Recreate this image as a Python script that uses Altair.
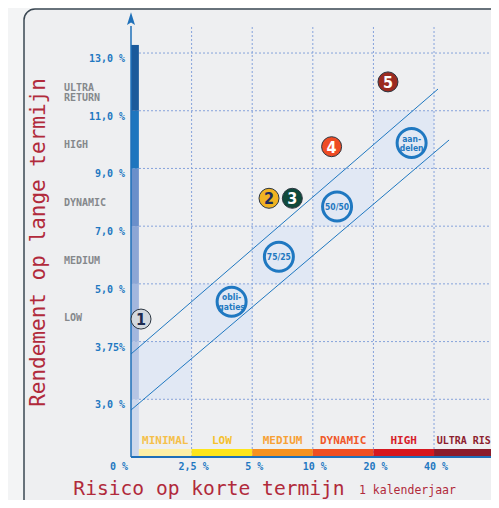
import altair as alt
import pandas as pd

# ---------------- data ----------------
risk_tick_pos = [0, 1, 2, 3, 4, 5]
risk_tick_labels = ["0 %", "2,5 %", "5 %", "10 %", "20 %", "40 %"]
return_tick_pos = [1, 2, 3, 4, 5, 6, 7]
return_tick_labels = ["3,0 %", "3,75%", "5,0 %", "7,0 %", "9,0 %", "11,0 %", "13,0 %"]

return_class_names = ["LOW", "MEDIUM", "DYNAMIC", "HIGH", "ULTRA\nRETURN"]
return_class_low = [2, 3, 4, 5, 6]

return_bar_low = [0, 1, 2, 3, 4, 5, 6]
return_bar_high = [1, 2, 3, 4, 5, 6, 7.14]

risk_class_names = ["MINIMAL", "LOW", "MEDIUM", "DYNAMIC", "HIGH", "ULTRA RIS"]
risk_class_start = [0.13, 1, 2, 3, 4, 5]
risk_class_end = [1, 2, 3, 4, 5, 6]
risk_label_pos = [0.565, 1.5, 2.5, 3.5, 4.5, 5.49]

band_cell_x = [0, 1, 2, 3, 4]
band_cell_y = [1, 2, 3, 4, 5]

band_line_names = ["upper", "upper", "lower", "lower"]
band_line_x = [0, 5.066, 0, 5.248]
band_line_y = [1.785, 6.377, 0.814, 5.493]

fund_labels = ["1", "2", "3", "4", "5"]
fund_risk = [0.165, 2.277, 2.662, 3.31, 4.24]
fund_return = [2.39, 4.483, 4.483, 5.377, 6.50]

mix_labels = ["obli-\ngaties", "75/25", "50/50", "aan-\ndelen"]
mix_risk = [1.66, 2.44, 3.40, 4.63]
mix_return = [2.69, 3.47, 4.34, 5.44]

# ---------------- styles ----------------
RED = "#b12a3b"
BLUE = "#1f78c1"
AXIS_BLUE = "#1f70b9"
GRID = "#86a3db"
CELL = "#e1e8f4"
BG = "#f3f4f5"
FRAME_FILL = "#eeeff1"
FRAME_STROKE = "#3b4853"
MONO = "DejaVu Sans Mono"
COND = "DejaVu Sans Condensed, Roboto, sans-serif"
return_bar_colors = ["#cdd8ec", "#b6c5e4", "#a3b7de", "#8ca6d5", "#6a8fca", "#1d75be", "#1b5a9b"]
risk_bar_colors = ["#fdf0a6", "#fde51b", "#f6921e", "#ef4f23", "#d5171f", "#8b1c2c"]
risk_text_colors = ["#f5c04a", "#f5c12e", "#f7a137", "#f0592b", "#d6202a", "#8c1d2e"]
risk_text_sizes = [11, 11, 11, 11, 11, 10]
fund_fill = ["#d3d8de", "#f0b323", "#0f4a3c", "#ee4b24", "#9b2b21"]
fund_text = ["#1d2b4f", "#1b2a5e", "#ffffff", "#ffffff", "#ffffff"]

X_MAX = 5.94
Y_MAX = 7.711
GRID_TOP = 7.47
ARROW_Y = 7.57
ARROW = "M0,-1L0.5,0.6L0,0.3L-0.5,0.6Z"

xs = alt.Scale(domain=[0, X_MAX], nice=False, zero=False)
ys = alt.Scale(domain=[0, Y_MAX], nice=False, zero=False)

x_axis = alt.Axis(title="Risico op korte termijn", labels=False, ticks=False, domain=False,
                  grid=False, titleFont=MONO, titleFontSize=19.6, titleFontWeight="normal",
                  titleColor=RED, titleX=77.5, titleY=37, titleAlign="center",
                  titleBaseline="alphabetic", zindex=1)
y_axis = alt.Axis(title="Rendement op lange termijn", labels=False, ticks=False, domain=False,
                  grid=False, titleFont=MONO, titleFontSize=21, titleFontWeight="normal",
                  titleColor=RED, titleAngle=270, titleX=-87, titleY=230, titleAlign="center",
                  titleBaseline="alphabetic", zindex=1)


def X(f):
    return alt.X(f, type="quantitative", scale=xs, axis=x_axis)


def Y(f):
    return alt.Y(f, type="quantitative", scale=ys, axis=y_axis)


one = pd.DataFrame({"a": [0]})

frame = alt.Chart(one).mark_rect(fill=FRAME_FILL, stroke=FRAME_STROKE, strokeWidth=1.5,
                                 cornerRadius=11).encode(
    x=alt.value(-107), x2=alt.value(380), y=alt.value(-3), y2=alt.value(520))

cells_df = pd.DataFrame({"x0": band_cell_x, "x1": [v + 1 for v in band_cell_x],
                         "y0": band_cell_y, "y1": [v + 1 for v in band_cell_y]})
cells = alt.Chart(cells_df).mark_rect(color=CELL).encode(
    x=X("x0"), x2="x1", y=Y("y0"), y2="y1")

gv_df = pd.DataFrame({"x": risk_tick_pos[1:], "y0": 0, "y1": GRID_TOP})
grid_v = alt.Chart(gv_df).mark_rule(color=GRID, strokeWidth=1, strokeDash=[2, 2]).encode(
    x=X("x"), y=Y("y0"), y2="y1")
gh_df = pd.DataFrame({"y": return_tick_pos, "x0": 0, "x1": X_MAX})
grid_h = alt.Chart(gh_df).mark_rule(color=GRID, strokeWidth=1, strokeDash=[2, 2]).encode(
    y=Y("y"), x=X("x0"), x2="x1")

ybar_df = pd.DataFrame({"y0": return_bar_low, "y1": return_bar_high, "x0": 0, "x1": 0.13,
                        "c": return_bar_colors})
ybar = alt.Chart(ybar_df).mark_rect().encode(
    x=X("x0"), x2="x1", y=Y("y0"), y2="y1", color=alt.Color("c:N", scale=None))

xbar_df = pd.DataFrame({"x0": risk_class_start, "x1": risk_class_end, "y0": 0.0, "y1": 0.14,
                        "c": risk_bar_colors, "t": risk_text_colors, "name": risk_class_names,
                        "fs": risk_text_sizes, "mid": risk_label_pos, "ly": 0.28})
xbar = alt.Chart(xbar_df).mark_rect(clip=True).encode(
    x=X("x0"), x2="x1", y=Y("y0"), y2="y1", color=alt.Color("c:N", scale=None))
xlab = alt.Chart(xbar_df).mark_text(font=MONO, fontWeight="bold", baseline="middle").encode(
    x=X("mid"), y=Y("ly"), text="name:N", color=alt.Color("t:N", scale=None),
    size=alt.Size("fs:Q", scale=None))

lines_df = pd.DataFrame({"line": band_line_names, "x": band_line_x, "y": band_line_y})
lines = alt.Chart(lines_df).mark_line(color=BLUE, strokeWidth=1).encode(
    x=X("x"), y=Y("y"), detail="line:N")

xaxis_df = pd.DataFrame({"y": [0], "x0": [0], "x1": [X_MAX]})
xaxis_line = alt.Chart(xaxis_df).mark_rule(color=AXIS_BLUE, strokeWidth=2).encode(
    y=Y("y"), x=X("x0"), x2="x1")
yaxis_df = pd.DataFrame({"x": [0], "y0": [0], "y1": [ARROW_Y - 0.1]})
yaxis_line = alt.Chart(yaxis_df).mark_rule(color=AXIS_BLUE, strokeWidth=1.5).encode(
    x=X("x"), y=Y("y0"), y2="y1")
arrow_df = pd.DataFrame({"x": [0], "y": [ARROW_Y]})
arrow = alt.Chart(arrow_df).mark_point(shape=ARROW, filled=True, size=256, color=AXIS_BLUE,
                                       opacity=1).encode(x=X("x"), y=Y("y"))

fund_df = pd.DataFrame({"label": fund_labels, "x": fund_risk, "y": fund_return,
                        "f": fund_fill, "t": fund_text})
funds = alt.Chart(fund_df).mark_circle(size=400, opacity=1, stroke="#2b3540",
                                       strokeWidth=1).encode(
    x=X("x"), y=Y("y"), fill=alt.Fill("f:N", scale=None))
fund_txt = alt.Chart(fund_df).mark_text(font=COND, fontSize=16, fontWeight="bold",
                                        baseline="middle", dy=1).encode(
    x=X("x"), y=Y("y"), text="label:N", color=alt.Color("t:N", scale=None))

mix_df = pd.DataFrame({"label": mix_labels, "x": mix_risk, "y": mix_return})
mixes = alt.Chart(mix_df).mark_point(shape="circle", filled=False, size=841, strokeWidth=3,
                                     color=BLUE, opacity=1).encode(x=X("x"), y=Y("y"))
mix_txt1 = alt.Chart(mix_df).transform_filter("indexof(datum.label, '\\n') < 0").mark_text(
    font=COND, fontSize=8.5, fontWeight="bold", color=BLUE, baseline="middle").encode(
    x=X("x"), y=Y("y"), text="label:N")
mix_txt2 = alt.Chart(mix_df).transform_filter("indexof(datum.label, '\\n') >= 0").mark_text(
    font=COND, fontSize=8.5, fontWeight="bold", color=BLUE, baseline="middle", lineBreak="\n",
    lineHeight=9.5, dy=-4.5).encode(
    x=X("x"), y=Y("y"), text="label:N")

xt_df = pd.DataFrame({"x": risk_tick_pos, "label": risk_tick_labels, "y": -0.173})
xt0 = alt.Chart(xt_df).transform_filter("datum.x == 0").mark_text(
    font=MONO, fontSize=10, fontWeight="bold", color=BLUE, align="right", baseline="middle",
    dx=-3).encode(x=X("x"), y=Y("y"), text="label:N")
xt = alt.Chart(xt_df).transform_filter("datum.x > 0").mark_text(
    font=MONO, fontSize=10, fontWeight="bold", color=BLUE, align="center", baseline="middle",
    dx=2).encode(x=X("x"), y=Y("y"), text="label:N")

yt_df = pd.DataFrame({"y": return_tick_pos, "label": return_tick_labels, "x": 0})
yt = alt.Chart(yt_df).mark_text(font=MONO, fontSize=10, fontWeight="bold", color=BLUE,
                                align="right", baseline="middle", dx=-6, dy=6).encode(
    x=X("x"), y=Y("y"), text="label:N")

cls_df = pd.DataFrame({"name": return_class_names,
                       "y": [v + 0.4 for v in return_class_low], "x": 0})
cls = alt.Chart(cls_df).mark_text(font=MONO, fontSize=10, fontWeight="bold", color="#85888c",
                                  align="left", baseline="middle", dx=-67, lineBreak="\n",
                                  lineHeight=10).encode(
    x=X("x"), y=Y("y"), text="name:N")

sub = alt.Chart(one).mark_text(font=MONO, fontSize=11.5, color=RED, align="left",
                               baseline="alphabetic").encode(
    x=alt.value(228), y=alt.value(482), text=alt.value("1 kalenderjaar"))

chart = alt.layer(
    frame, cells, grid_v, grid_h, ybar, xbar, xlab, lines, xaxis_line, yaxis_line, arrow,
    funds, fund_txt, mixes, mix_txt1, mix_txt2, xt0, xt, yt, cls, sub
).properties(
    width=360, height=445,
    padding={"left": 123, "top": 4, "right": 0, "bottom": 43},
    autosize=alt.AutoSizeParams(type="none"),
    background=BG,
).configure_view(strokeWidth=0)

chart.save("out.html", embed_options={"renderer": "svg", "actions": False})
